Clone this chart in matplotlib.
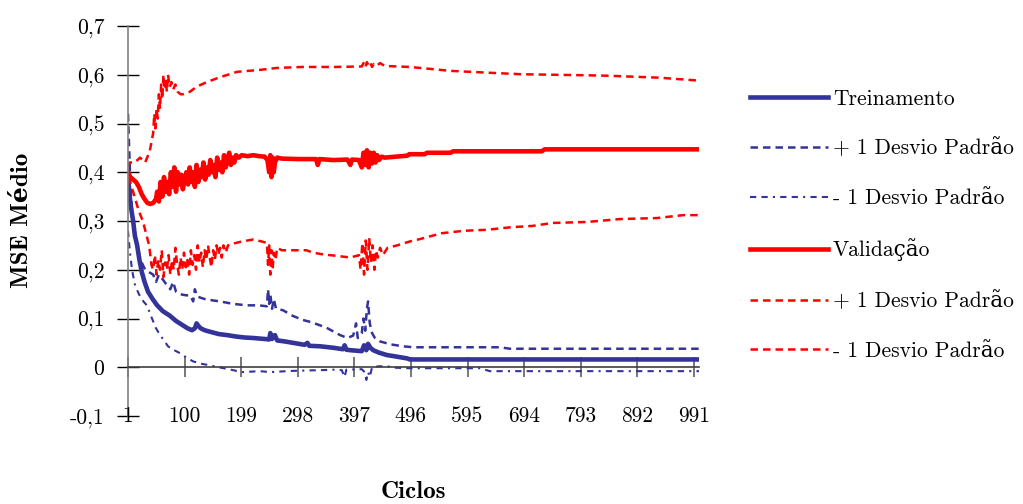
import matplotlib.pyplot as plt

plt.rcParams['font.family'] = ['cmr10', 'DejaVu Serif']
plt.rcParams['axes.unicode_minus'] = False

# Treinamento (media e +/- 1 desvio padrao)
trein_c = [1, 3, 6, 10, 13, 17, 21, 25, 30, 36, 44, 52, 62, 74, 85, 97, 105, 113, 118, 121, 124, 128,
           135, 144, 160, 174, 190, 205, 220, 240, 248, 250, 253, 258, 262, 275, 290, 300, 310, 315,
           318, 337, 360, 377, 380, 383, 390, 410, 414, 418, 421, 425, 430, 440, 454, 470, 480, 490,
           494, 1000]
trein_v = [0.40, 0.36, 0.33, 0.30, 0.27, 0.25, 0.22, 0.196, 0.175, 0.155, 0.14, 0.127, 0.115, 0.106,
           0.095, 0.086, 0.08, 0.076, 0.08, 0.09, 0.085, 0.08, 0.076, 0.073, 0.068, 0.066, 0.063, 0.061,
           0.06, 0.058, 0.057, 0.07, 0.058, 0.066, 0.055, 0.053, 0.05, 0.048, 0.046, 0.05, 0.044, 0.043,
           0.04, 0.037, 0.045, 0.036, 0.035, 0.033, 0.045, 0.035, 0.048, 0.04, 0.035, 0.03, 0.025, 0.022,
           0.02, 0.018, 0.016, 0.016]

trein_sup_c = [1, 3, 5, 8, 12, 17, 23, 31, 38, 45, 50, 55, 62, 68, 75, 80, 85, 92, 100, 110, 115, 118,
               122, 135, 150, 162, 185, 209, 230, 244, 246, 248, 250, 253, 256, 260, 272, 290, 307, 320,
               337, 350, 372, 385, 395, 400, 403, 410, 413, 416, 419, 421, 424, 428, 433, 442, 460, 482,
               500, 652, 669, 1000]
trein_sup_v = [0.52, 0.45, 0.38, 0.32, 0.28, 0.25, 0.22, 0.20, 0.195, 0.19, 0.175, 0.19, 0.18, 0.17,
               0.16, 0.175, 0.155, 0.15, 0.148, 0.147, 0.135, 0.16, 0.145, 0.14, 0.137, 0.135, 0.13,
               0.127, 0.127, 0.125, 0.16, 0.13, 0.15, 0.12, 0.14, 0.12, 0.117, 0.105, 0.097, 0.093,
               0.086, 0.08, 0.066, 0.06, 0.065, 0.09, 0.06, 0.07, 0.10, 0.075, 0.12, 0.135, 0.09, 0.07,
               0.06, 0.053, 0.047, 0.043, 0.041, 0.041, 0.038, 0.038]

trein_inf_c = [1, 4, 8, 13, 20, 28, 34, 43, 50, 57, 64, 71, 80, 92, 103, 115, 130, 144, 160, 185, 200,
               232, 250, 279, 300, 337, 360, 375, 380, 383, 410, 415, 418, 421, 424, 428, 440, 454, 470,
               489, 617, 634, 1000]
trein_inf_v = [0.28, 0.24, 0.20, 0.17, 0.15, 0.135, 0.127, 0.10, 0.08, 0.066, 0.055, 0.043, 0.036,
               0.029, 0.02, 0.012, 0.007, 0.004, 0.0, -0.006, -0.01, -0.008, -0.01, -0.008, -0.007,
               -0.006, -0.005, -0.006, -0.02, -0.005, -0.004, -0.01, -0.026, -0.01, -0.02, 0.0, 0.002,
               0.002, -0.001, -0.002, -0.002, -0.008, -0.008]

# Validacao (media e +/- 1 desvio padrao)
valid_c = [1, 5, 10, 15, 20, 25, 30, 35, 40, 45, 50,
           52, 55, 58, 61, 64, 67, 70, 73, 76, 79, 82, 85, 88, 91, 94, 97, 100, 103, 106, 109, 112,
           115, 118, 121, 124, 127, 130, 133, 136, 139, 142, 145, 148, 151, 154, 157, 160, 163, 166,
           169, 172, 175, 178, 181, 184, 187, 190, 195, 200,
           210, 220, 230, 240, 245, 248, 250, 252, 254, 256, 258, 262, 270, 300, 330, 333, 336, 360,
           385, 390, 393, 405, 410, 413, 416, 419, 422, 425, 428, 431, 434, 437, 440, 445, 450, 470,
           480, 490, 493, 520, 524, 565, 570, 725, 730, 1000]
valid_v = [0.40, 0.39, 0.385, 0.38, 0.37, 0.355, 0.345, 0.337, 0.335, 0.337, 0.345,
           0.36, 0.34, 0.38, 0.35, 0.39, 0.36, 0.38, 0.355, 0.40, 0.37, 0.41, 0.36, 0.40, 0.375, 0.395,
           0.365, 0.385, 0.40, 0.375, 0.41, 0.38, 0.40, 0.37, 0.415, 0.38, 0.405, 0.39, 0.42, 0.385,
           0.41, 0.395, 0.425, 0.40, 0.415, 0.39, 0.43, 0.405, 0.42, 0.40, 0.435, 0.41, 0.425, 0.44,
           0.415, 0.43, 0.42, 0.435, 0.43, 0.435,
           0.433, 0.435, 0.433, 0.432, 0.425, 0.40, 0.435, 0.39, 0.43, 0.40, 0.42, 0.43, 0.428, 0.427,
           0.427, 0.415, 0.427, 0.425, 0.426, 0.415, 0.426, 0.425, 0.41, 0.44, 0.415, 0.445, 0.41,
           0.44, 0.418, 0.44, 0.42, 0.435, 0.425, 0.432, 0.43, 0.432, 0.433, 0.434, 0.437, 0.437,
           0.44, 0.44, 0.443, 0.443, 0.447, 0.447]

valid_sup_c = [1, 4, 13, 22, 31, 39, 45, 47, 49, 51, 53, 55, 57, 59, 61, 63, 65, 67, 69, 71, 74, 77,
               80, 84, 88, 93, 97, 109, 122, 139, 162, 192, 232, 262, 307, 366, 410, 413, 416, 419,
               422, 425, 428, 431, 436, 442, 450, 494, 565, 635, 690, 800, 841, 930, 1000]
valid_sup_v = [0.41, 0.42, 0.42, 0.43, 0.42, 0.443, 0.48, 0.52, 0.49, 0.53, 0.51, 0.56, 0.53, 0.58,
               0.55, 0.60, 0.57, 0.59, 0.565, 0.60, 0.575, 0.585, 0.57, 0.58, 0.565, 0.56, 0.56, 0.565,
               0.576, 0.585, 0.595, 0.606, 0.61, 0.614, 0.616, 0.616, 0.617, 0.624, 0.615, 0.626, 0.618,
               0.624, 0.616, 0.622, 0.618, 0.624, 0.618, 0.616, 0.608, 0.604, 0.601, 0.599, 0.598,
               0.594, 0.588]

valid_inf_c = [1, 10, 20, 27, 32, 38, 42, 45, 48, 51, 54, 57, 60, 63, 66, 69, 72, 75, 78, 81, 84, 87,
               90, 93, 96, 99, 102, 105, 108, 111, 114, 117, 120, 123, 126, 129, 132, 135, 138, 141,
               144, 147, 150, 153, 156, 159, 162, 165, 168, 172, 176, 180, 190, 200, 220, 235, 244,
               246, 248, 250, 252, 254, 256, 259, 262, 270, 290, 313, 325, 340, 354, 370, 390, 405,
               408, 411, 414, 417, 420, 423, 426, 429, 432, 435, 438, 442, 447, 455, 472, 494, 512,
               550, 590, 629, 669, 709, 744, 804, 862, 926, 972, 1000]
valid_inf_v = [0.39, 0.36, 0.32, 0.30, 0.277, 0.25, 0.21, 0.20, 0.23, 0.19, 0.22, 0.20, 0.24, 0.185,
               0.215, 0.20, 0.23, 0.19, 0.22, 0.20, 0.245, 0.21, 0.19, 0.225, 0.20, 0.235, 0.205, 0.22,
               0.19, 0.24, 0.21, 0.23, 0.20, 0.25, 0.215, 0.235, 0.205, 0.24, 0.22, 0.25, 0.225, 0.205,
               0.24, 0.22, 0.25, 0.23, 0.245, 0.225, 0.25, 0.235, 0.25, 0.253, 0.255, 0.258, 0.262,
               0.258, 0.255, 0.21, 0.25, 0.19, 0.24, 0.20, 0.235, 0.22, 0.245, 0.24, 0.24, 0.24, 0.235,
               0.232, 0.23, 0.228, 0.225, 0.23, 0.20, 0.255, 0.19, 0.26, 0.20, 0.265, 0.215, 0.25, 0.20,
               0.24, 0.225, 0.245, 0.23, 0.245, 0.25, 0.258, 0.263, 0.275, 0.28, 0.282, 0.287, 0.29,
               0.296, 0.298, 0.304, 0.306, 0.312, 0.312]

y_ticks = [-0.1, 0.0, 0.1, 0.2, 0.3, 0.4, 0.5, 0.6, 0.7]
y_labels = ['-0,1', '0', '0,1', '0,2', '0,3', '0,4', '0,5', '0,6', '0,7']
x_ticks = [1, 100, 199, 298, 397, 496, 595, 694, 793, 892, 991]

azul = '#333399'
vermelho = '#ff0000'
fs = 15.5
negrito = ['cmb10', 'DejaVu Serif']

fig = plt.figure(figsize=(10.23, 5.04), dpi=100)
ax = fig.add_axes([128 / 1023, 88 / 504, 571 / 1023, 390 / 504])

ax.plot(trein_c, trein_v, color=azul, lw=3.3, label='Treinamento')
ax.plot(trein_sup_c, trein_sup_v, color=azul, lw=1.8, dashes=(3, 2), label='+ 1 Desvio Padrão')
ax.plot(trein_inf_c, trein_inf_v, color=azul, lw=1.5, dashes=(3, 2.5, 3, 2.5, 1, 2.5),
        label='- 1 Desvio Padrão')
ax.plot(valid_c, valid_v, color=vermelho, lw=3.3, label='Validação')
ax.plot(valid_sup_c, valid_sup_v, color=vermelho, lw=1.8, dashes=(3, 2), label='+ 1 Desvio Padrão')
ax.plot(valid_inf_c, valid_inf_v, color=vermelho, lw=1.8, dashes=(3, 2), label='- 1 Desvio Padrão')

ax.set_xlim(1, 1000)
ax.set_ylim(-0.1, 0.7)

for s in ['top', 'right']:
    ax.spines[s].set_visible(False)
ax.spines['left'].set_color('#808080')
ax.spines['left'].set_linewidth(1.2)
ax.spines['bottom'].set_position(('data', 0))
ax.spines['bottom'].set_color('#404040')
ax.spines['bottom'].set_linewidth(1.2)

ax.set_yticks(y_ticks)
ax.set_yticklabels(y_labels, fontsize=fs)
ax.tick_params(axis='y', direction='inout', length=16, width=1, color='black', pad=9)

ax.set_xticks(x_ticks)
ax.set_xticklabels([])
ax.tick_params(axis='x', direction='inout', length=14, width=1.2, color='#606060')
# rotulos do eixo x ficam embaixo, na linha de -0,1
for t in x_ticks:
    ax.text(t, -0.1, str(t), ha='center', va='center', fontsize=fs, clip_on=False)

fig.text(22 / 1023, 1 - 220 / 504, 'MSE Médio', rotation=90, ha='center', va='center',
         fontsize=18, family=negrito, fontweight='bold')
fig.text(413 / 1023, 1 - 492 / 504, 'Ciclos', ha='center', va='center',
         fontsize=18, family=negrito, fontweight='bold')

fig.legend(loc='upper left', bbox_to_anchor=(750 / 1023, 1 - 89 / 504), frameon=False,
           fontsize=fs, handlelength=3.6, handletextpad=0.25, labelspacing=1.4,
           borderpad=0, borderaxespad=0)

fig.savefig('out.png', dpi=100)
